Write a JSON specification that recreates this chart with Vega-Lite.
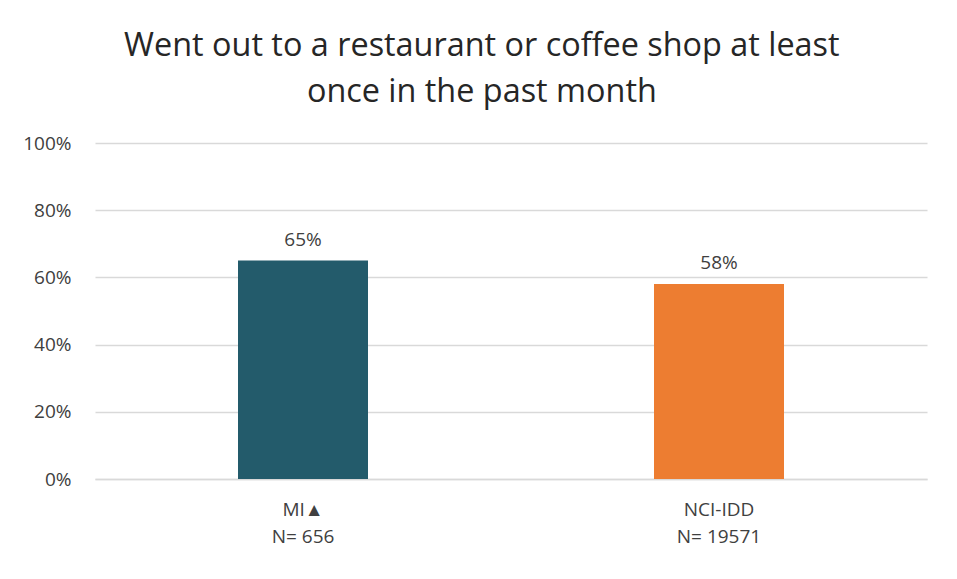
{
  "$schema": "https://vega.github.io/schema/vega-lite/v6.json",
  "width": 832,
  "height": 336,
  "padding": {"left": 22, "top": 29, "right": 30, "bottom": 10},
  "background": "white",
  "title": {
    "text": ["Went out to a restaurant or coffee shop at least", "once in the past month"],
    "font": "Open Sans",
    "fontSize": 32.4,
    "fontWeight": "normal",
    "color": "#262626",
    "lineHeight": 46,
    "anchor": "middle",
    "frame": "bounds",
    "dx": 7,
    "offset": 26
  },
  "data": {
    "values": [
      {"group": "MI▲|N= 656", "value": 0.65, "label": "65%"},
      {"group": "NCI-IDD|N= 19571", "value": 0.58, "label": "58%"}
    ]
  },
  "encoding": {
    "x": {
      "field": "group",
      "type": "nominal",
      "sort": null,
      "axis": {
        "title": null,
        "labelAngle": 0,
        "labelExpr": "split(datum.label, '|')",
        "labelFont": "Open Sans",
        "labelFontSize": 19,
        "labelColor": "#404040",
        "labelLineHeight": 27,
        "labelPadding": 21,
        "ticks": false,
        "domainColor": "#D9D9D9",
        "domainWidth": 1.5
      }
    },
    "y": {
      "field": "value",
      "type": "quantitative",
      "scale": {"domain": [0, 1]},
      "axis": {
        "title": null,
        "format": ".0%",
        "values": [0, 0.2, 0.4, 0.6, 0.8, 1],
        "labelFont": "Open Sans",
        "labelFontSize": 19,
        "labelColor": "#404040",
        "labelPadding": 24,
        "ticks": false,
        "domain": false,
        "gridColor": "#D9D9D9",
        "gridWidth": 1.5
      }
    }
  },
  "layer": [
    {
      "mark": {"type": "bar", "size": 130},
      "encoding": {
        "color": {
          "field": "group",
          "type": "nominal",
          "scale": {"range": ["#235B6B", "#ED7D31"]},
          "legend": null
        }
      }
    },
    {
      "mark": {"type": "text", "baseline": "bottom", "dy": -11, "font": "Open Sans", "fontSize": 19, "color": "#404040"},
      "encoding": {"text": {"field": "label"}}
    }
  ],
  "config": {"view": {"stroke": null}}
}
